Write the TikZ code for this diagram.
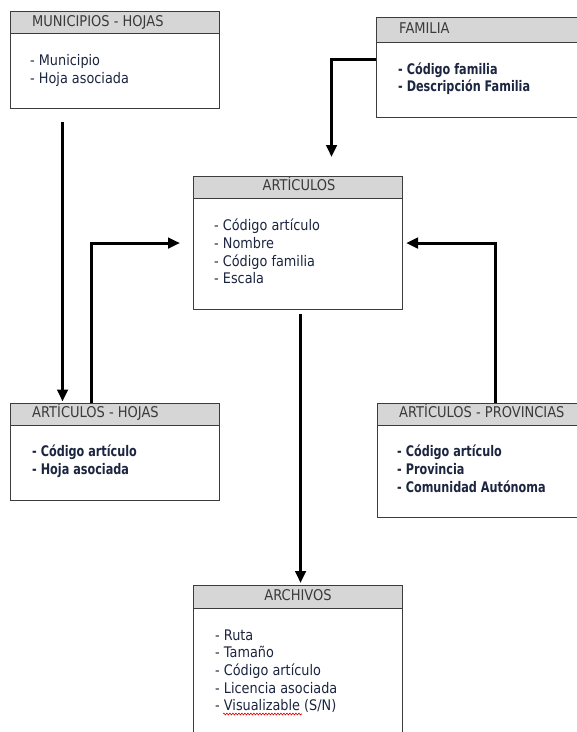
\documentclass[tikz,border=0pt]{standalone}
\usepackage{fontspec}
\setmainfont{DejaVu Sans}[FakeStretch=0.88, BoldFeatures={FakeStretch=0.77}]
\usetikzlibrary{arrows.meta,decorations.pathmorphing}

\definecolor{hdrgray}{HTML}{D6D6D6}
\definecolor{framecol}{HTML}{3C3C3C}
\definecolor{titlecol}{HTML}{3A3A3A}
\definecolor{itemcol}{HTML}{1C2640}

\tikzset{
  tablebox/.style={draw=framecol, line width=1.1pt, fill=white, inner sep=0pt,
    anchor=north west},
  headbox/.style={draw=framecol, line width=1.1pt, fill=hdrgray, inner sep=0pt,
    anchor=north west},
  title/.style={text=titlecol, inner sep=0pt, font=\fontsize{14.8}{17}\selectfont},
  item/.style={text=itemcol, inner sep=0pt, anchor=base west,
    font=\fontsize{14.6}{17}\selectfont},
  bolditem/.style={item, font=\fontsize{14.6}{17}\selectfont\bfseries},
  link/.style={line width=3pt, -{Triangle[length=12pt,width=10.5pt]}},
}

\begin{document}
\begin{tikzpicture}[x=1pt,y=-1pt]
\useasboundingbox (0,0) rectangle (577,732);

% ---------- MUNICIPIOS - HOJAS ----------
\node[tablebox, minimum width=209pt, minimum height=97pt] (mun) at (10,11) {};
\node[headbox, minimum width=209pt, minimum height=22pt] (munh) at (10,11) {};
\node[title, anchor=base west] (munt) at (32,26) {MUNICIPIOS - HOJAS};
\node[item] (mun1) at (30,65.5) {- Municipio};
\node[item] (mun2) at (30,83) {- Hoja asociada};

% ---------- FAMILIA ----------
\node[tablebox, minimum width=206pt, minimum height=100pt] (fam) at (376,17) {};
\node[headbox, minimum width=206pt, minimum height=25pt] (famh) at (376,17) {};
\node[title, anchor=base west] (famt) at (399,33) {FAMILIA};
\node[bolditem] (fam1) at (398,74.3) {- Código familia};
\node[bolditem] (fam2) at (398,91.7) {- Descripción Familia};

% ---------- ARTÍCULOS ----------
\node[tablebox, minimum width=209pt, minimum height=133pt] (art) at (193,176) {};
\node[headbox, minimum width=209pt, minimum height=22pt] (arth) at (193,176) {};
\node[title, anchor=base] (artt) at (299,190.7) {ARTÍCULOS};
\node[item] (art1) at (214,230.7) {- Código artículo};
\node[item] (art2) at (214,248.3) {- Nombre};
\node[item] (art3) at (214,266) {- Código familia};
\node[item] (art4) at (214,283.6) {- Escala};

% ---------- ARTÍCULOS - HOJAS ----------
\node[tablebox, minimum width=209pt, minimum height=97pt] (arthoj) at (10,403) {};
\node[headbox, minimum width=209pt, minimum height=22pt] (arthojh) at (10,403) {};
\node[title, anchor=base west] (arthojt) at (32,417.7) {ARTÍCULOS - HOJAS};
\node[bolditem] (arthoj1) at (32,456.7) {- Código artículo};
\node[bolditem] (arthoj2) at (32,474.3) {- Hoja asociada};

% ---------- ARTÍCULOS - PROVINCIAS ----------
\node[tablebox, minimum width=199.5pt, minimum height=114pt] (prov) at (377,403) {};
\node[headbox, minimum width=199.5pt, minimum height=22pt] (provh) at (377,403) {};
\node[title, anchor=base west] (provt) at (399,417.7) {ARTÍCULOS - PROVINCIAS};
\node[bolditem] (prov1) at (397,456.7) {- Código artículo};
\node[bolditem] (prov2) at (397,474.3) {- Provincia};
\node[bolditem] (prov3) at (397,492) {- Comunidad Autónoma};

% ---------- ARCHIVOS ----------
\node[tablebox, minimum width=209pt, minimum height=160pt] (arch) at (193,585) {};
\node[headbox, minimum width=209pt, minimum height=23pt] (archh) at (193,585) {};
\node[title, anchor=base] (archt) at (298,600) {ARCHIVOS};
\node[item] (arch1) at (215,640) {- Ruta};
\node[item] (arch2) at (215,657.7) {- Tamaño};
\node[item] (arch3) at (215,675.3) {- Código artículo};
\node[item] (arch4) at (215,693) {- Licencia asociada};
\node[item] (arch5) at (215,710.6) {- Visualizable (S/N)};
% spell-check underline
\coordinate (sq1) at (223,714);
\coordinate (sq2) at (302,714);
\draw[red!85!black, line width=0.6pt,
  decorate, decoration={snake, amplitude=0.9pt, segment length=3pt}] (sq1) -- (sq2);

% ---------- connectors ----------
\draw[link, shorten <=13pt, shorten >=1.5pt]
  ([xshift=-52.5pt]mun.south) -- ([xshift=-52.5pt]arthoj.north);
\draw[link, shorten >=13pt]
  ([xshift=-23.5pt]arthoj.north) |- (art.west);
\draw[link, shorten >=19pt]
  ([yshift=8pt]fam.west) -| ([xshift=33.5pt]art.north);
\draw[link, shorten >=3pt]
  ([xshift=18.25pt]prov.north) |- (art.east);
\draw[link, shorten <=4pt, shorten >=2pt]
  ([xshift=2.5pt]art.south) -- ([xshift=2.5pt]arch.north);
\end{tikzpicture}
\end{document}
